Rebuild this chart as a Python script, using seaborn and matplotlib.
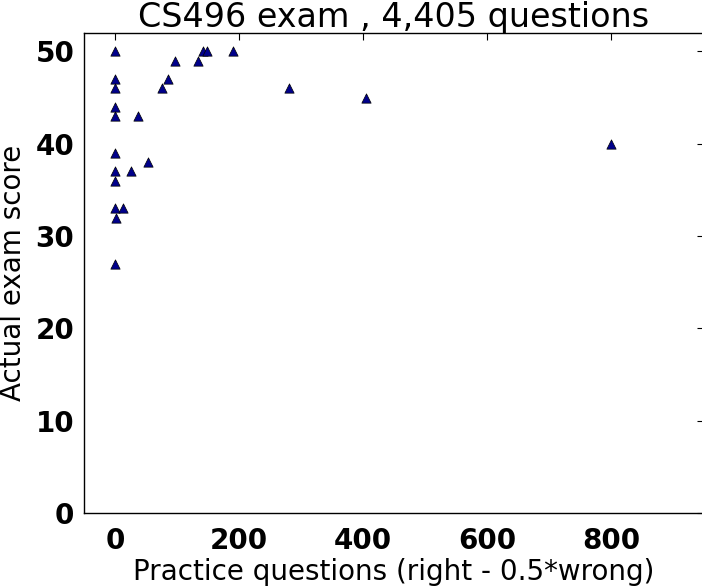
import matplotlib
matplotlib.use('Agg')
import matplotlib.pyplot as plt
import seaborn as sns
import pandas as pd

# practice score vs actual exam score
practice = [0, 0, 0, 0, 0, 0, 0, 0, 0, 2, 0,
            25, 13, 37, 53, 76, 85, 97, 134, 142, 148, 190, 281, 405, 800]
exam = [50, 47, 46, 44, 43, 39, 37, 36, 33, 32, 27,
        37, 33, 43, 38, 46, 47, 49, 49, 50, 50, 50, 46, 45, 40]

data = pd.DataFrame({'practice': practice, 'exam': exam})

sns.set_style('white')
plt.rcParams['font.family'] = ['DejaVu Sans']
plt.rcParams['text.color'] = 'black'
plt.rcParams['axes.labelcolor'] = 'black'

fig = plt.figure(figsize=(7.02, 5.87), dpi=100)
ax = fig.add_axes([84 / 702, 1 - 513 / 587, 620 / 702, 480 / 587])

sns.scatterplot(x='practice', y='exam', data=data, marker='^', s=45,
                color='#00008B', edgecolor='black', linewidth=0.5, ax=ax)

ax.set_xlim(-50, 950)
ax.set_ylim(0, 52)
ax.set_xticks([0, 200, 400, 600, 800])
ax.set_yticks([0, 10, 20, 30, 40, 50])

for s in ax.spines.values():
    s.set_color('black')
    s.set_linewidth(1.0)

ax.tick_params(direction='in', length=5, width=0.8, top=True, right=True,
               labelsize=20, colors='black')
ax.tick_params(axis='x', pad=10)
ax.tick_params(axis='y', pad=7)
for lbl in ax.get_xticklabels() + ax.get_yticklabels():
    lbl.set_fontweight('bold')

ax.set_xlabel('Practice questions (right - 0.5*wrong)', fontsize=20,
              color='black', labelpad=2)
ax.set_ylabel('Actual exam score', fontsize=20, color='black', labelpad=6)
ax.set_title('CS496 exam , 4,405 questions', fontsize=24, color='black', pad=4)

fig.savefig('out.png', dpi=100)
